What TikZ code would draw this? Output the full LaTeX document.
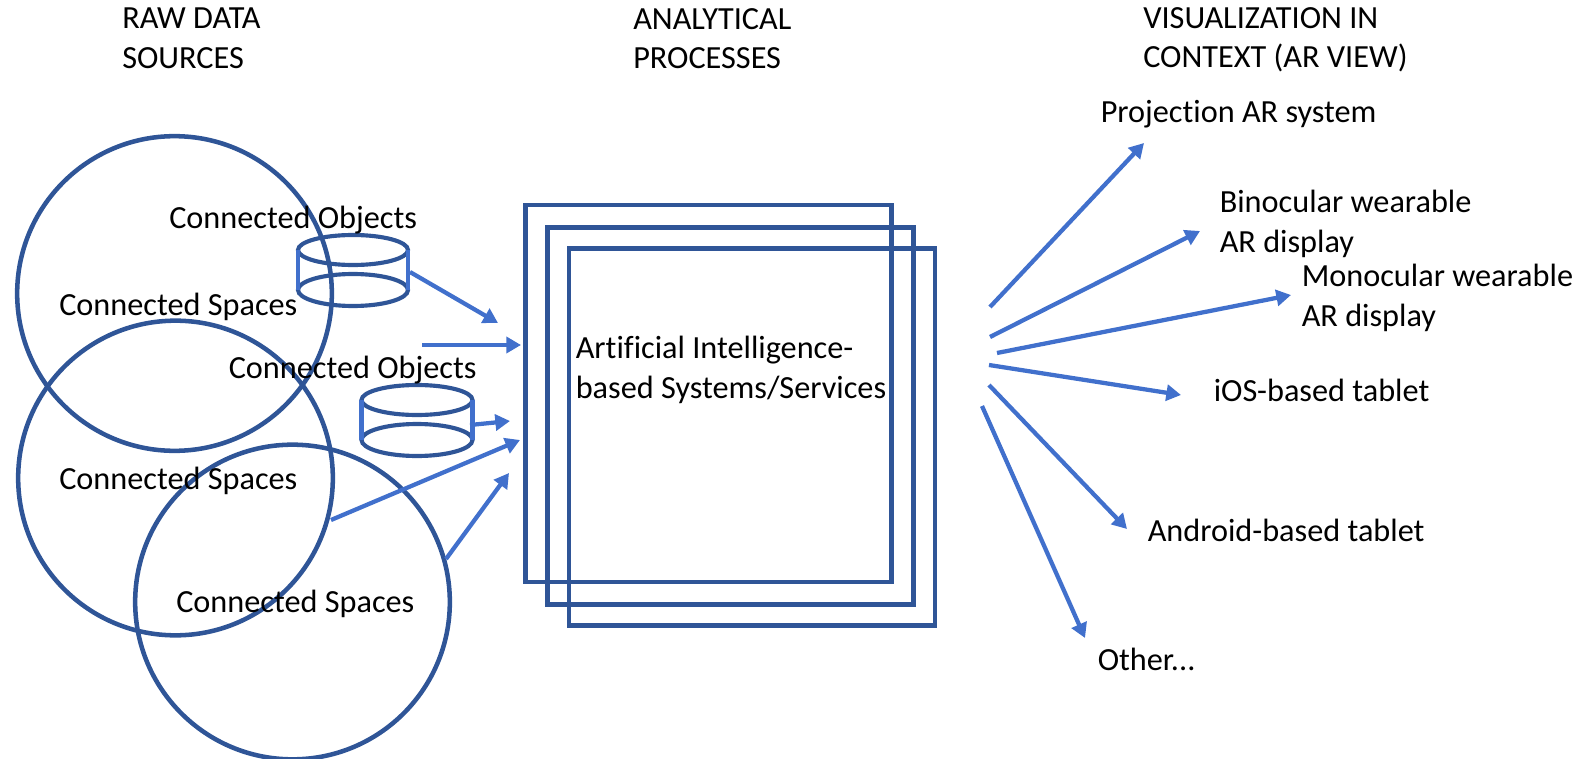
\documentclass[tikz,border=0pt]{standalone}
\usepackage{xcolor}
\usepackage{fontspec}
\setmainfont{Carlito}[Ligatures=NoCommon]
\usetikzlibrary{arrows.meta}
\definecolor{shapeblue}{HTML}{2F5597}
\definecolor{arrowblue}{HTML}{4170CC}
\tikzset{
  dataCircle/.style={circle,draw=shapeblue,line width=3.4pt,minimum size=236pt,inner sep=0pt},
  aiSquare/.style={rectangle,draw=shapeblue,line width=3.4pt,minimum width=274.5pt,minimum height=283pt,inner sep=0pt},
  cylEdge/.style={draw=shapeblue,line width=3.1pt},
  cylSide/.style={draw=arrowblue,line width=3.1pt},
  flowArrow/.style={draw=arrowblue,line width=3.2pt,-{Triangle[length=11pt,width=12pt]}},
  textLabel/.style={anchor=north west,inner sep=0.75pt,align=left,font=\fontsize{24.2}{29.6}\selectfont}
}
\begin{document}
\begin{tikzpicture}[x=0.75pt,y=0.75pt,yscale=-1,xscale=1]
        \useasboundingbox (0,0) rectangle (1587,759);

        %Shape: Circle
        \node [dataCircle] (spacesA) at (174.5,293.5) {};
        %Shape: Circle
        \node [dataCircle] (spacesB) at (175.5,478) {};
        %Shape: Circle
        \node [dataCircle] (spacesC) at (292.5,602) {};

        %Shape: Square
        \node [aiSquare] (aiBack) at (708.5,393.5) {};
        %Shape: Square
        \node [aiSquare] (aiMid) at (730.5,416) {};
        %Shape: Square
        \node [aiSquare] (aiFront) at (752,437) {};

        %Shape: Can
        \draw [cylEdge] (353,250) ellipse (55 and 15);
        \draw [cylEdge] (353,290) ellipse (55 and 16);
        \draw [cylSide] (298,250) -- (298,290);
        \draw [cylSide] (408,250) -- (408,290);
        %Shape: Can
        \draw [cylEdge] (417,400) ellipse (55.5 and 15);
        \draw [cylEdge] (417,440) ellipse (55.5 and 16);
        \draw [cylSide] (361.5,400) -- (361.5,440);
        \draw [cylSide] (472.5,400) -- (472.5,440);

        % Arrow ends
        \coordinate (canAout) at (410,272);
        \coordinate (canAin) at (498,323);
        \coordinate (spacesAout) at (422,345);
        \coordinate (spacesAin) at (521,345);
        \coordinate (canBout) at (470,425);
        \coordinate (canBin) at (510,421);
        \coordinate (spacesBout) at (331,520);
        \coordinate (spacesBin) at (520,440);
        \coordinate (spacesCout) at (446,559);
        \coordinate (spacesCin) at (509,473);
        \coordinate (fanA) at (990,307);
        \coordinate (fanB) at (990,337);
        \coordinate (fanC) at (997,353);
        \coordinate (fanD) at (989,365);
        \coordinate (fanE) at (989,385);
        \coordinate (fanF) at (982,406);
        \coordinate (outA) at (1144,143);
        \coordinate (outB) at (1200,231);
        \coordinate (outC) at (1291,295);
        \coordinate (outD) at (1181,395);
        \coordinate (outE) at (1127,529);
        \coordinate (outF) at (1085,638);

        \draw [flowArrow] (canAout) -- (canAin);
        \draw [flowArrow] (spacesAout) -- (spacesAin);
        \draw [flowArrow] (canBout) -- (canBin);
        \draw [flowArrow] (spacesBout) -- (spacesBin);
        \draw [flowArrow] (spacesCout) -- (spacesCin);
        \draw [flowArrow] (fanA) -- (outA);
        \draw [flowArrow] (fanB) -- (outB);
        \draw [flowArrow] (fanC) -- (outC);
        \draw [flowArrow] (fanD) -- (outD);
        \draw [flowArrow] (fanE) -- (outE);
        \draw [flowArrow] (fanF) -- (outF);

        % Text Node
        \draw (121,7) node [textLabel] (rawTitle) {RAW DATA\\SOURCES};
        % Text Node
        \draw (632,7) node [textLabel] (analyticTitle) {ANALYTICAL\\PROCESSES};
        % Text Node
        \draw (1142,6) node [textLabel] (visTitle) {VISUALIZATION IN\\CONTEXT (AR VIEW)};
        % Text Node
        \draw (168,205) node [textLabel] (objectsA) {Connected Objects};
        % Text Node
        \draw (58,292) node [textLabel] (labelA) {Connected Spaces};
        % Text Node
        \draw (227.5,355) node [textLabel] (objectsB) {Connected Objects};
        % Text Node
        \draw (58,466) node [textLabel] (labelB) {Connected Spaces};
        % Text Node
        \draw (175,589) node [textLabel] (labelC) {Connected Spaces};
        % Text Node
        \draw (574.5,335) node [textLabel] (aiText) {Artificial Intelligence-\\based Systems/Services};
        % Text Node
        \draw (1099.5,99) node [textLabel] (projText) {Projection AR system};
        % Text Node
        \draw (1218.5,189) node [textLabel] (binoText) {Binocular wearable\\AR display};
        % Text Node
        \draw (1300.5,263) node [textLabel] (monoText) {Monocular wearable\\AR display};
        % Text Node
        \draw (1212.5,378) node [textLabel] (iosText) {iOS-based tablet};
        % Text Node
        \draw (1146.5,518) node [textLabel] (androidText) {Android-based tablet};
        % Text Node
        \draw (1096.5,647) node [textLabel] (otherText) {Other...};
    \end{tikzpicture}
\end{document}
